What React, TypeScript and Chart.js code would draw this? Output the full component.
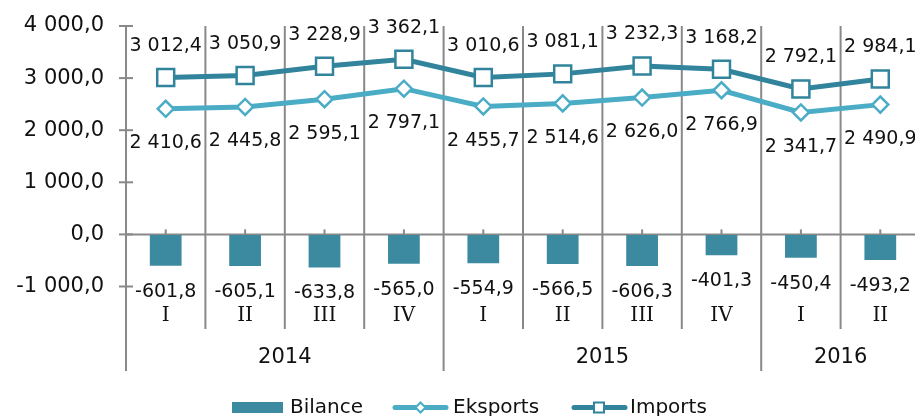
import React, { useEffect, useRef } from "react";
import { Chart, registerables } from "chart.js";

Chart.register(...registerables);

const quarters = ["I", "II", "III", "IV", "I", "II", "III", "IV", "I", "II"];
const years = ["2014", "2015", "2016"];
const yearSpans = [4, 4, 2];
const bilance = [-601.8, -605.1, -633.8, -565.0, -554.9, -566.5, -606.3, -401.3, -450.4, -493.2];
const eksports = [2410.6, 2445.8, 2595.1, 2797.1, 2455.7, 2514.6, 2626.0, 2766.9, 2341.7, 2490.9];
const imports = [3012.4, 3050.9, 3228.9, 3362.1, 3010.6, 3081.1, 3232.3, 3168.2, 2792.1, 2984.1];
const yTicks = [-1000, 0, 1000, 2000, 3000, 4000];

const FONT = "DejaVu Sans, Verdana, sans-serif";
const QFONT = "DejaVu Serif, serif";
const GRAY = "#898989";
const BAR = "#3C8AA0";
const IMP = "#31849B";
const EKS = "#4BACC6";

function fmt(v: number): string {
  const neg = v < 0;
  const a = Math.abs(v).toFixed(1);
  const [ip, dp] = a.split(".");
  const withSp = ip.replace(/\B(?=(\d{3})+(?!\d))/g, " ");
  return (neg ? "-" : "") + withSp + "," + dp;
}

const decorPlugin = {
  id: "decor",
  beforeDatasetsDraw(chart: any) {
    const ctx = chart.ctx;
    const area = chart.chartArea;
    const xs = chart.scales.x;
    const ys = chart.scales.y;
    const y0 = ys.getPixelForValue(0);
    const yTop = ys.getPixelForValue(4000);
    const n = quarters.length;
    const step = (area.right - area.left) / n;
    ctx.save();
    ctx.strokeStyle = GRAY;
    ctx.lineWidth = 2;
    const boundaryYears = new Set<number>();
    let acc = 0;
    yearSpans.forEach((s) => {
      acc += s;
      boundaryYears.add(acc);
    });
    for (let i = 1; i <= n; i++) {
      const x = area.left + i * step;
      const bottom = boundaryYears.has(i) && i < n ? 371 : 329;
      ctx.beginPath();
      ctx.moveTo(x, yTop);
      ctx.lineTo(x, bottom);
      ctx.stroke();
    }
    ctx.beginPath();
    ctx.moveTo(area.left, yTop - 1);
    ctx.lineTo(area.left, 371);
    ctx.stroke();
    yTicks.forEach((t) => {
      const y = ys.getPixelForValue(t);
      ctx.beginPath();
      ctx.moveTo(area.left - 7, y);
      ctx.lineTo(area.left + 7, y);
      ctx.stroke();
    });
    ctx.beginPath();
    ctx.moveTo(area.left, y0);
    ctx.lineTo(area.right, y0);
    ctx.stroke();
    for (let i = 0; i < n; i++) {
      const x = xs.getPixelForValue(i);
      ctx.beginPath();
      ctx.moveTo(x, y0);
      ctx.lineTo(x, y0 - 5);
      ctx.stroke();
    }
    ctx.fillStyle = "#111";
    ctx.textAlign = "center";
    ctx.textBaseline = "middle";
    ctx.font = "20px " + QFONT;
    for (let i = 0; i < n; i++) {
      ctx.fillText(quarters[i], xs.getPixelForValue(i), 316);
    }
    ctx.font = "21px " + FONT;
    let start = 0;
    years.forEach((yr, k) => {
      const s = yearSpans[k];
      const cx = area.left + (start + s / 2) * step;
      ctx.fillText(yr, cx, 358);
      start += s;
    });
    ctx.restore();
  },
  afterDatasetsDraw(chart: any) {
    const ctx = chart.ctx;
    ctx.save();
    ctx.fillStyle = "#111";
    ctx.font = "19px " + FONT;
    ctx.textAlign = "center";
    ctx.textBaseline = "middle";
    const metaBar = chart.getDatasetMeta(0);
    const metaEks = chart.getDatasetMeta(1);
    const metaImp = chart.getDatasetMeta(2);
    metaBar.data.forEach((el: any, i: number) => {
      ctx.fillText(fmt(bilance[i]), el.x, el.y + 26);
    });
    metaEks.data.forEach((el: any, i: number) => {
      ctx.fillText(fmt(eksports[i]), el.x, el.y + 34.5);
    });
    metaImp.data.forEach((el: any, i: number) => {
      ctx.fillText(fmt(imports[i]), el.x, el.y - 31.5);
    });

    const ly = 407.5;
    ctx.textAlign = "left";
    ctx.font = "20px " + FONT;
    ctx.fillStyle = BAR;
    ctx.fillRect(232, 402, 51, 11);
    ctx.fillStyle = "#111";
    ctx.fillText("Bilance", 290, ly);

    ctx.strokeStyle = EKS;
    ctx.lineWidth = 5;
    ctx.lineCap = "round";
    ctx.beginPath();
    ctx.moveTo(395, ly);
    ctx.lineTo(446, ly);
    ctx.stroke();
    ctx.lineCap = "butt";
    ctx.lineWidth = 2;
    ctx.fillStyle = "#fff";
    ctx.beginPath();
    ctx.moveTo(420.5, ly - 5);
    ctx.lineTo(425.5, ly);
    ctx.lineTo(420.5, ly + 5);
    ctx.lineTo(415.5, ly);
    ctx.closePath();
    ctx.fill();
    ctx.stroke();
    ctx.fillStyle = "#111";
    ctx.fillText("Eksports", 453, ly);

    ctx.strokeStyle = IMP;
    ctx.lineWidth = 5;
    ctx.lineCap = "round";
    ctx.beginPath();
    ctx.moveTo(574, ly);
    ctx.lineTo(625, ly);
    ctx.stroke();
    ctx.lineCap = "butt";
    ctx.lineWidth = 2;
    ctx.fillStyle = "#fff";
    ctx.fillRect(594, ly - 5, 10, 10);
    ctx.strokeRect(594, ly - 5, 10, 10);
    ctx.fillStyle = "#111";
    ctx.fillText("Imports", 630, ly);
    ctx.restore();
  },
};

export default function App() {
  const ref = useRef<HTMLCanvasElement | null>(null);
  useEffect(() => {
    if (!ref.current) return;
    const chart = new Chart(ref.current, {
      type: "bar",
      data: {
        labels: quarters.map((q, i) => q + i),
        datasets: [
          {
            type: "bar",
            label: "Bilance",
            data: bilance,
            backgroundColor: BAR,
            barPercentage: 0.4,
            categoryPercentage: 1,
            order: 3,
          },
          {
            type: "line",
            label: "Eksports",
            data: eksports,
            borderColor: EKS,
            borderWidth: 5,
            pointStyle: "rectRot",
            pointRadius: 8,
            pointBorderWidth: 2.5,
            pointBackgroundColor: "#fff",
            pointBorderColor: EKS,
            tension: 0,
            order: 2,
          },
          {
            type: "line",
            label: "Imports",
            data: imports,
            borderColor: IMP,
            borderWidth: 5,
            pointStyle: "rect",
            pointRadius: 12,
            pointBorderWidth: 2.5,
            pointBackgroundColor: "#fff",
            pointBorderColor: IMP,
            tension: 0,
            order: 1,
          },
        ] as any,
      },
      options: {
        animation: false,
        responsive: false,
        maintainAspectRatio: false,
        layout: { autoPadding: false, padding: { top: 26, bottom: 129.5, left: 0, right: 1 } },
        plugins: {
          legend: { display: false },
          tooltip: { enabled: false },
        },
        scales: {
          x: {
            display: false,
            offset: true,
          },
          y: {
            min: -1000,
            max: 4000,
            afterFit: (s: any) => {
              s.width = 126;
            },
            afterBuildTicks: (s: any) => {
              s.ticks = yTicks.map((v) => ({ value: v }));
            },
            border: { display: false },
            grid: {
              display: true,
              drawOnChartArea: false,
              drawTicks: true,
              tickLength: 22,
              color: "rgba(0,0,0,0)",
            },
            ticks: {
              padding: 0,
              color: "#111",
              font: { family: FONT, size: 21 },
              callback: (v: any) => fmt(Number(v)),
            },
          },
        },
      } as any,
      plugins: [decorPlugin],
    });
    return () => chart.destroy();
  }, []);
  return (
    <div style={{ position: "fixed", left: 0, top: 0, width: 915, height: 416, overflow: "hidden", background: "#fff" }}>
      <canvas ref={ref} width={921} height={416} style={{ width: 921, height: 416 }} />
    </div>
  );
}
